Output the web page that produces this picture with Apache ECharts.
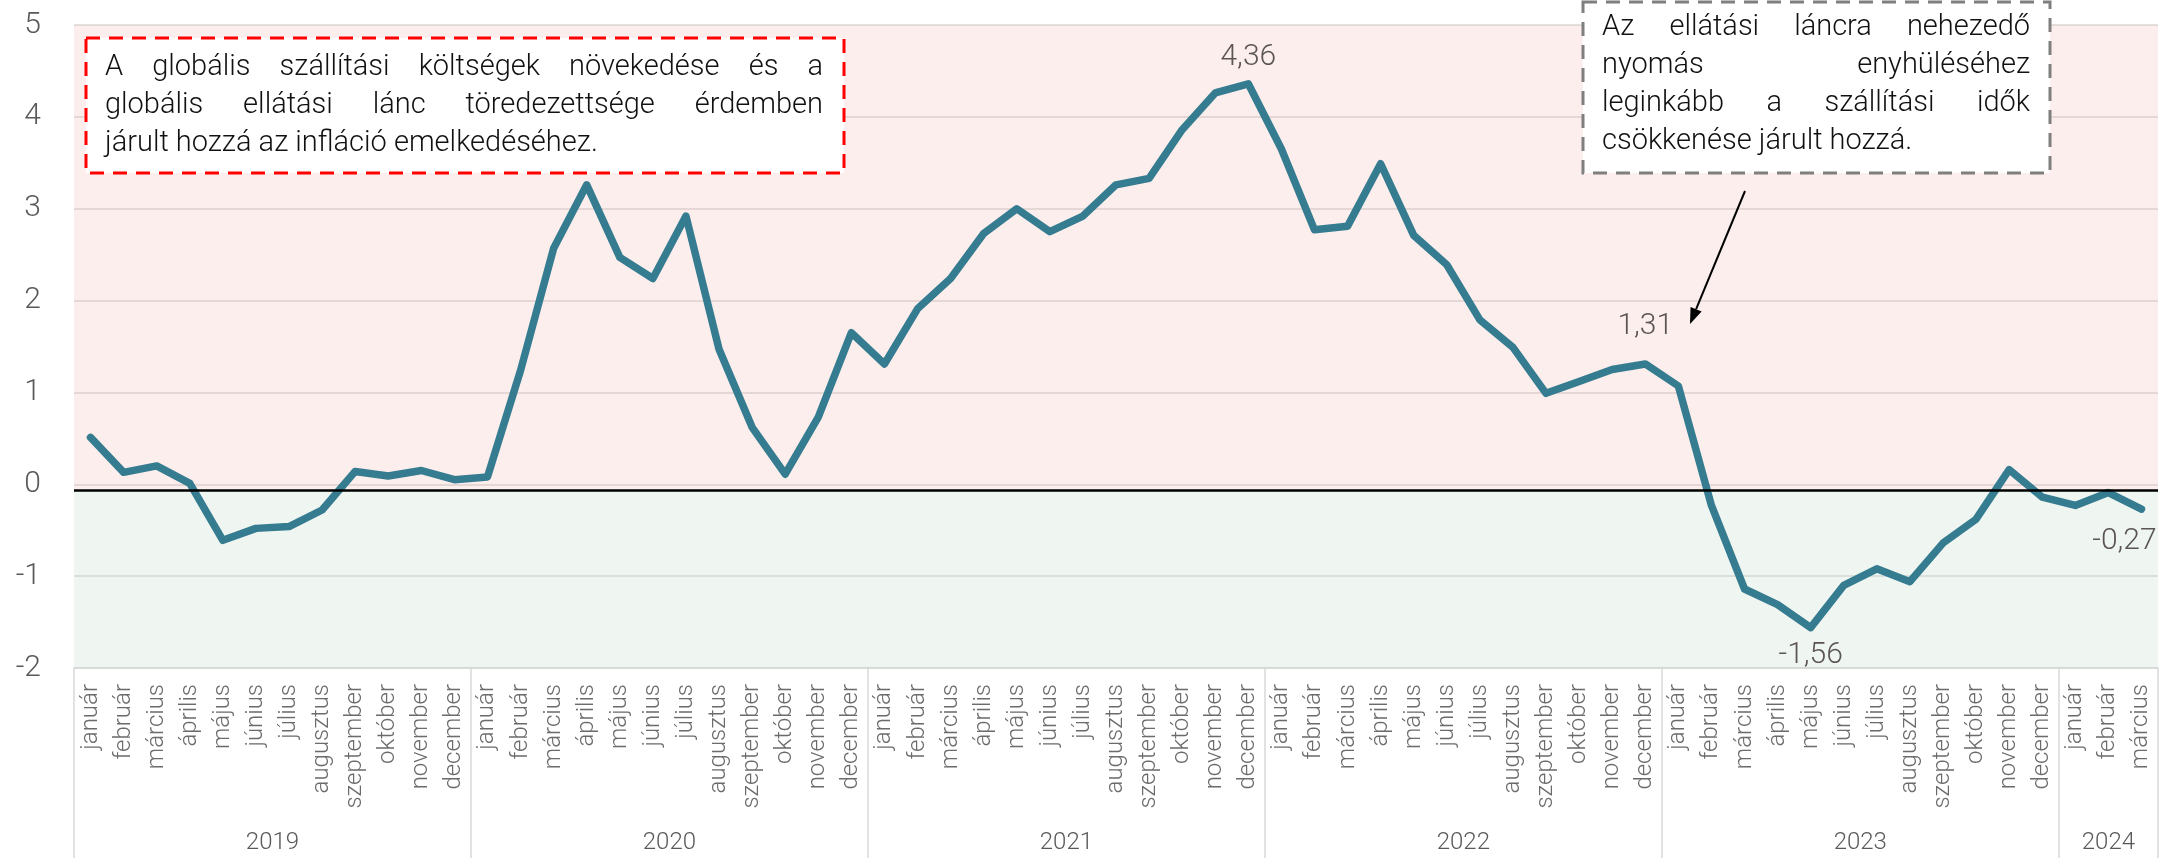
<!DOCTYPE html>
<html>
<head>
<meta charset="utf-8">
<script src="https://cdn.jsdelivr.net/npm/echarts@6/dist/echarts.min.js"></script>
<style>
  html, body { margin: 0; padding: 0; background: #fff; }
  #chart { width: 2177px; height: 858px; }
</style>
</head>
<body>
<div id="chart"></div>
<script>
// havi nevek és évek
const monthNames = ['január', 'február', 'március', 'április', 'május', 'június',
  'július', 'augusztus', 'szeptember', 'október', 'november', 'december'];
const years = ['2019', '2020', '2021', '2022', '2023', '2024'];
const monthsPerYear = [12, 12, 12, 12, 12, 3];

// index értékek (2019 jan - 2024 márc)
const values = [
  0.51, 0.13, 0.20, 0.01, -0.61, -0.48, -0.46, -0.28, 0.14, 0.09, 0.15, 0.05,
  0.08, 1.24, 2.57, 3.26, 2.47, 2.24, 2.92, 1.47, 0.62, 0.11, 0.73, 1.65,
  1.31, 1.91, 2.24, 2.73, 3.00, 2.75, 2.92, 3.26, 3.33, 3.86, 4.26, 4.36,
  3.65, 2.77, 2.81, 3.49, 2.71, 2.39, 1.79, 1.49, 0.99, 1.12, 1.25, 1.31,
  1.07, -0.23, -1.14, -1.31, -1.56, -1.10, -0.92, -1.06, -0.64, -0.38, 0.16, -0.14,
  -0.23, -0.09, -0.27
];
const labeledIdx = [35, 47, 52, 62];

const yTicks = [-2, -1, 0, 1, 2, 3, 4, 5];
const zeroLine = -0.055;

const leftNote = [
  'A globális szállítási költségek növekedése és a',
  'globális ellátási lánc töredezettsége érdemben',
  'járult hozzá az infláció emelkedéséhez.'
];
const rightNote = [
  'Az ellátási láncra nehezedő',
  'nyomás enyhüléséhez',
  'leginkább a szállítási idők',
  'csökkenése járult hozzá.'
];

// kategóriák
let categories = [];
monthsPerYear.forEach(function (n) {
  for (let i = 0; i < n; i++) categories.push(monthNames[i]);
});
let bounds = [0], centers = [];
monthsPerYear.forEach(function (n) {
  let s = bounds[bounds.length - 1];
  centers.push(s + n / 2);
  bounds.push(s + n);
});

// címkék stílusa pontonként
const labelStyle = {
  35: { position: 'top', distance: 11 },
  47: { position: 'top', distance: 22 },
  52: { position: 'bottom', distance: 13 },
  62: { position: 'bottom', distance: 17, offset: [-17, 0] }
};

let seriesData = values.map(function (v, i) {
  if (labeledIdx.indexOf(i) < 0) return v;
  return { value: v, label: Object.assign({ show: true }, labelStyle[i]) };
});

// sorkizárt szöveg
const noteFont = '300 29px Roboto';
let ctx = document.createElement('canvas').getContext('2d');
ctx.font = noteFont;

function textEl(t, x, y) {
  return {
    type: 'text', z: 110, silent: true, x: x, y: y,
    style: { text: t, font: noteFont, fill: '#111', textVerticalAlign: 'middle', verticalAlign: 'middle' }
  };
}

function justify(lines, left, right, mids) {
  let out = [];
  lines.forEach(function (line, k) {
    if (k === lines.length - 1) { out.push(textEl(line, left, mids[k])); return; }
    let words = line.split(' ');
    let ws = words.map(function (w) { return ctx.measureText(w).width; });
    let sum = ws.reduce(function (a, b) { return a + b; }, 0);
    let gap = (right - left - sum) / (words.length - 1);
    let x = left;
    words.forEach(function (w, i) { out.push(textEl(w, x, mids[k])); x += ws[i] + gap; });
  });
  return out;
}

// nyíl
const arrowFrom = [1745, 191], arrowTo = [1690, 324];
let dx = arrowTo[0] - arrowFrom[0], dy = arrowTo[1] - arrowFrom[1];
let len = Math.sqrt(dx * dx + dy * dy), ux = dx / len, uy = dy / len;
let bx = arrowTo[0] - ux * 16, by = arrowTo[1] - uy * 16;
let head = [arrowTo, [bx - uy * 6, by + ux * 6], [bx + uy * 6, by - ux * 6]];

let graphics = [
  { type: 'rect', z: 100, silent: true, shape: { x: 86, y: 38, width: 758, height: 135 },
    style: { fill: '#fff', stroke: '#ff0000', lineWidth: 3, lineDash: [14, 9] } },
  { type: 'rect', z: 100, silent: true, shape: { x: 1583, y: 2, width: 467, height: 171 },
    style: { fill: '#fff', stroke: '#7f7f7f', lineWidth: 3, lineDash: [14, 9] } },
  { type: 'line', z: 100, silent: true,
    shape: { x1: arrowFrom[0], y1: arrowFrom[1], x2: bx, y2: by },
    style: { stroke: '#000', lineWidth: 2 } },
  { type: 'polygon', z: 100, silent: true, shape: { points: head }, style: { fill: '#000' } }
].concat(justify(leftNote, 105, 823, [68, 106, 144]))
 .concat(justify(rightNote, 1602, 2030, [28, 66, 104, 142]));

var myChart = echarts.init(document.getElementById('chart'));

let option = {
  animation: false,
  backgroundColor: '#fff',
  grid: { left: 74, right: 19, top: 25, bottom: 190, containLabel: false },
  xAxis: [
    {
      type: 'category',
      data: categories,
      boundaryGap: true,
      axisLine: { onZero: false, lineStyle: { color: '#d9d9d9', width: 1.5 } },
      axisTick: { show: false },
      axisLabel: {
        interval: 0, rotate: 90, margin: 16,
        color: '#6b6b6b', fontSize: 24, fontFamily: 'Roboto', fontWeight: 300
      },
      splitLine: { show: false }
    },
    {
      type: 'value',
      position: 'bottom',
      min: 0, max: bounds[bounds.length - 1],
      axisLine: { show: false, onZero: false },
      splitLine: { show: false },
      axisTick: {
        show: true, inside: false, length: 190, customValues: bounds,
        lineStyle: { color: '#d9d9d9', width: 1.5 }
      },
      axisLabel: {
        customValues: centers, margin: 163,
        color: '#595959', fontSize: 24, fontFamily: 'Roboto', fontWeight: 300,
        formatter: function (v) {
          let k = centers.indexOf(v);
          return k >= 0 ? years[k] : '';
        }
      }
    }
  ],
  yAxis: {
    type: 'value',
    min: yTicks[0], max: yTicks[yTicks.length - 1], interval: 1,
    axisLine: { show: false },
    axisTick: { show: false },
    axisLabel: { margin: 33, color: '#595959', fontSize: 30, fontFamily: 'Roboto', fontWeight: 300 },
    splitLine: { lineStyle: { color: '#d9d9d9', width: 1.5 } }
  },
  graphic: graphics,
  series: [{
    type: 'line',
    data: seriesData,
    symbol: 'circle',
    symbolSize: 0.1,
    showSymbol: true,
    smooth: false,
    lineStyle: { color: '#367c90', width: 7.5, cap: 'round', join: 'round' },
    itemStyle: { color: '#367c90' },
    label: {
      show: false,
      color: '#5a5454', fontSize: 30, fontFamily: 'Roboto', fontWeight: 300,
      formatter: function (p) { return String(p.value).replace('.', ','); }
    },
    markArea: {
      silent: true,
      data: [
        [{ yAxis: yTicks[yTicks.length - 1], itemStyle: { color: 'rgba(242,176,170,0.22)' } }, { yAxis: zeroLine }],
        [{ yAxis: zeroLine, itemStyle: { color: 'rgba(190,215,195,0.25)' } }, { yAxis: yTicks[0] }]
      ]
    },
    markLine: {
      silent: true,
      symbol: 'none',
      label: { show: false },
      lineStyle: { color: '#000', width: 2.5, type: 'solid' },
      data: [{ yAxis: zeroLine }]
    }
  }]
};

myChart.setOption(option);
</script>
</body>
</html>
